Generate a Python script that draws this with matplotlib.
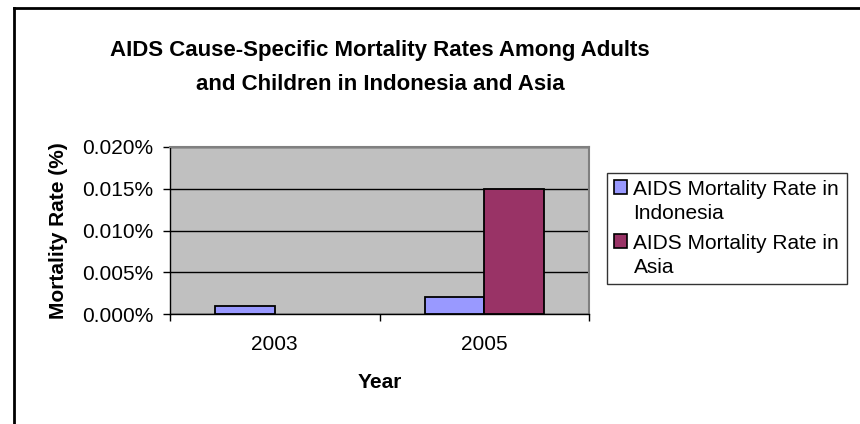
import matplotlib.pyplot as plt
import numpy as np
from matplotlib import font_manager
from matplotlib.lines import Line2D
from matplotlib.patches import Patch, Rectangle
from matplotlib.legend_handler import HandlerPatch

plt.rcParams['font.family'] = ['Liberation Sans', 'DejaVu Sans']

# Data (Asia has no 2003 value)
years = ["2003", "2005"]
indonesia = [0.001, 0.002]
asia = [np.nan, 0.015]
series_names = ["AIDS Mortality Rate in\nIndonesia", "AIDS Mortality Rate in\nAsia"]
y_ticks = [0.0, 0.005, 0.010, 0.015, 0.020]
title_lines = ["AIDS Cause-Specific Mortality Rates Among Adults",
               "and Children in Indonesia and Asia"]

COLOR_INDO = "#9999FF"
COLOR_ASIA = "#993366"
PLOT_BG = "#C0C0C0"
FS = 15

# the title in the original is a tall, narrow bold face
installed = {f.name for f in font_manager.fontManager.ttflist}
if "Liberation Sans Narrow" in installed:
    title_font, title_size = ["Liberation Sans Narrow"], 18
else:
    title_font, title_size = ["Liberation Sans"], 16

fig = plt.figure(figsize=(8.6, 4.24), dpi=100)
ax = fig.add_axes([170 / 860, 1 - 314 / 424, 419 / 860, 167 / 424])
ax.set_facecolor(PLOT_BG)

x = np.arange(len(years))
w = 0.285
ax.bar(x - w / 2, indonesia, w, color=COLOR_INDO, edgecolor="black", linewidth=1.3, zorder=3)
ax.bar(x + w / 2, asia, w, color=COLOR_ASIA, edgecolor="black", linewidth=1.3, zorder=3)

ax.set_xlim(-0.5, len(years) - 0.5)
ax.set_ylim(0, 0.02)
ax.set_yticks(y_ticks)
ax.set_yticklabels([f"{v:.3f}%" for v in y_ticks], fontsize=FS)
ax.yaxis.grid(True, color="black", linewidth=1, zorder=1)
ax.set_axisbelow(True)

# category boundaries get the tick marks, centres get the labels
ax.set_xticks(np.arange(-0.5, len(years), 1.0))
ax.set_xticklabels([])
ax.set_xticks(x, minor=True)
ax.set_xticklabels(years, minor=True, fontsize=FS)
ax.tick_params(axis="x", which="minor", length=0, pad=15)
ax.tick_params(axis="x", which="major", length=5, direction="out", width=1)
ax.tick_params(axis="y", length=5, direction="out", width=1, pad=7)

for side in ("top", "right"):
    ax.spines[side].set_color("#808080")
    ax.spines[side].set_linewidth(1.5)
for side in ("left", "bottom"):
    ax.spines[side].set_color("black")
    ax.spines[side].set_linewidth(1)

ax.set_ylabel("Mortality Rate (%)", fontsize=FS, fontweight="bold")
ax.yaxis.set_label_coords((68 - 170) / 419, 0.5)
ax.set_xlabel("Year", fontsize=FS, fontweight="bold")
ax.xaxis.set_label_coords(0.5, (314 - 373) / 167)

for line, base_y in zip(title_lines, (56, 90)):
    fig.text(380 / 860, 1 - base_y / 424, line, ha="center", va="baseline",
             family=title_font, fontsize=title_size, fontweight="bold")


def top_square(legend, orig_handle, xdescent, ydescent, width, height, fontsize):
    # put the legend square beside the first line of a two-line label
    return Rectangle((-xdescent, -ydescent + 0.7 * fontsize), width, height)


handles = [Patch(facecolor=COLOR_INDO, edgecolor="black", linewidth=1.2),
           Patch(facecolor=COLOR_ASIA, edgecolor="black", linewidth=1.2)]
leg = fig.legend(handles, series_names, loc="upper left",
                 bbox_to_anchor=(607 / 860, 1 - 173 / 424),
                 fontsize=FS, frameon=True, fancybox=False, edgecolor="black",
                 handlelength=0.62, handleheight=0.62, handletextpad=0.3,
                 borderpad=0.35, labelspacing=0.55, borderaxespad=0,
                 handler_map={Patch: HandlerPatch(patch_func=top_square)})
leg.get_frame().set_linewidth(1)
for t in leg.get_texts():
    t.set_linespacing(1.3)

# outer chart frame (top and left edges visible)
fig.add_artist(Line2D([14 / 860, 14 / 860], [0, 1 - 8 / 424], color="black", linewidth=2,
                      transform=fig.transFigure))
fig.add_artist(Line2D([14 / 860, 1], [1 - 8 / 424, 1 - 8 / 424], color="black", linewidth=2,
                      transform=fig.transFigure))

fig.savefig("out.png", dpi=100)
